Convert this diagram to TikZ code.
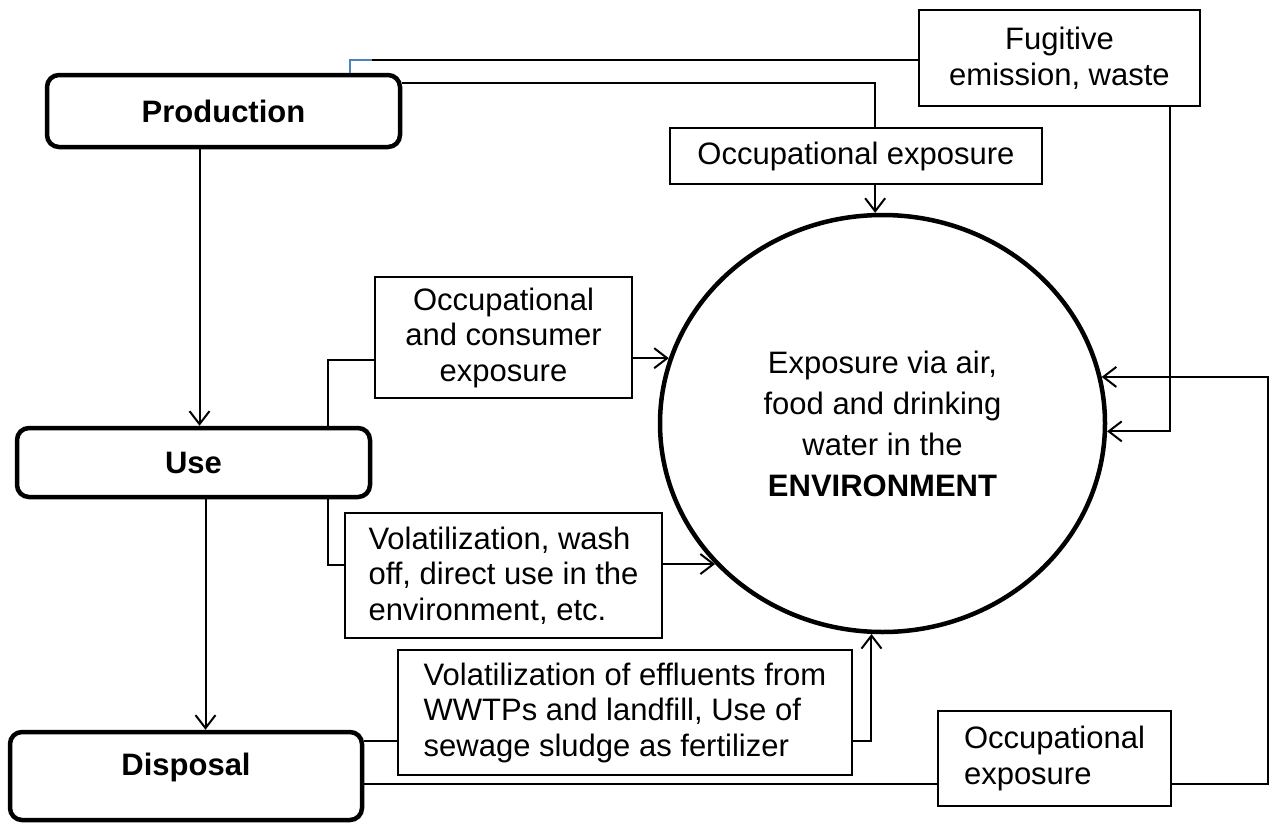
\documentclass[tikz,border=0pt]{standalone}
\usepackage{fontspec}
\setmainfont{Liberation Sans}
\usetikzlibrary{arrows.meta,shapes.geometric,positioning}
\definecolor{wordblue}{RGB}{79,129,189}
\newcommand{\diagfont}{\fontsize{31}{35.5}\selectfont}
\tikzset{stagebox/.style={draw,rectangle,rounded corners=12pt,line width=4.5pt,font=\diagfont\bfseries},
    pathbox/.style={draw,rectangle,line width=2.2pt,inner ysep=4pt},
    envcircle/.style={draw,ellipse,line width=4.5pt,inner sep=0,align=center,font=\fontsize{31}{41}\selectfont},
    flow/.style={line width=2pt},
    flowarrow/.style={flow,-{Straight Barb[length=13pt,width=20pt]}}
}

\begin{document}
\begin{tikzpicture}[x=1pt,y=-1pt,font=\diagfont]
\useasboundingbox (0,0) rectangle (1271,822);

% life cycle stages
\node (prod) at (223.5,111) [stagebox,minimum width=353pt,minimum height=72pt] {Production};
\node (use) at (193.5,462.5) [stagebox,minimum width=353pt,minimum height=69pt] {Use};
\node (disp) at (186,776) [stagebox,minimum width=352pt,minimum height=88pt] {\raisebox{9pt}[\height][\depth]{Disposal}};

% environment
\node (env) at (882.5,423.5) [envcircle,minimum width=445pt,minimum height=417pt] {Exposure via air,\\food and drinking\\water in the\\\textbf{ENVIRONMENT}};

% routes of release
\node (fug) at (1059.5,58) [pathbox,minimum width=281pt,minimum height=96pt,align=center] {Fugitive\\emission, waste};
\node (occtop) at (856,156) [pathbox,minimum width=372pt,minimum height=56pt] {Occupational exposure};
\node (occcons) at (503.5,337.5) [pathbox,minimum width=257pt,minimum height=121pt,align=center] {Occupational\\and consumer\\exposure};
\node (vol) at (503.5,575.5) [pathbox,minimum width=317pt,minimum height=125pt,align=left] {Volatilization, wash\\off, direct use in the\\environment, etc.};
\node (wwtp) at (625,712.5) [pathbox,minimum width=454pt,minimum height=125pt,align=left] {Volatilization of effluents from\\WWTPs and landfill, Use of\\sewage sludge as fertilizer};
\node (occbot) at (1054.5,758.5) [pathbox,minimum width=233pt,minimum height=95pt,align=left] {Occupational\\exposure};

\coordinate (branch) at (328,360);
\coordinate (branchlow) at (328,565);
\coordinate (low) at (873,741);
\coordinate (loop) at (1268,784);

% stage to stage
\draw [flowarrow] ([xshift=-24pt]prod.south) -- ([xshift=-24pt]prod.south |- use.north);
\draw [flowarrow] ([xshift=12pt]use.south) -- ([xshift=12pt]use.south |- disp.north);

% production
\draw [flow,wordblue] ([xshift=126.5pt]prod.north) -- ++(0,-13) -- ++(22,0) coordinate (fugin);
\draw [flow] (fugin) -- (fug.west |- fugin);
\draw [flow] ([yshift=28pt]prod.east) -| (occtop.north -| env.92.6);
\draw [flowarrow] (occtop.south -| env.92.6) -- (env.92.6);
\draw [flowarrow] ([xshift=110pt]fug.south) |- (env.358.8);

% use
\draw [flow] (use.north -| branch) -- (branch) -- (occcons.west |- branch);
\draw [flowarrow] (occcons.east |- env.163.3) -- (env.163.3);
\draw [flow] (use.south -| branchlow) -- (branchlow) -- (vol.west |- branchlow);
\draw [flowarrow] (vol.east |- env.220.9) -- (env.220.9);

% disposal
\draw [flow] (disp.east |- low) -- (wwtp.west |- low);
\draw [flowarrow] (wwtp.east |- low) -| (env.267.4);
\draw [flow] (disp.east |- loop) -- (occbot.west |- loop);
\draw [flowarrow] (occbot.east |- loop) -- (loop) |- (env.12.4);

\end{tikzpicture}
\end{document}
